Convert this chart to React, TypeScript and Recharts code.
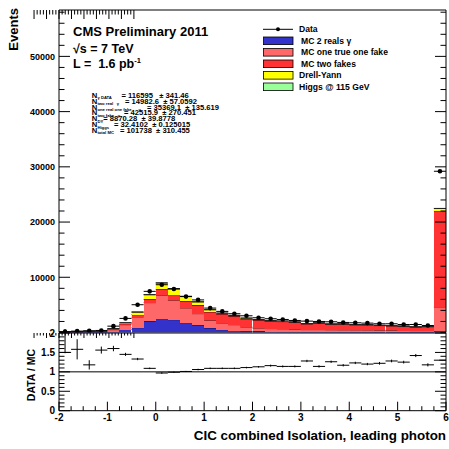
import React from 'react';
import { ComposedChart, Bar, Scatter, XAxis, YAxis, ErrorBar, ReferenceLine } from 'recharts';

// ---- data (bins of 0.25 from -2 to 6) ----
const binCenters = [-1.875, -1.625, -1.375, -1.125, -0.875, -0.625, -0.375, -0.125, 0.125, 0.375, 0.625, 0.875, 1.125, 1.375, 1.625, 1.875, 2.125, 2.375, 2.625, 2.875, 3.125, 3.375, 3.625, 3.875, 4.125, 4.375, 4.625, 4.875, 5.125, 5.375, 5.625, 5.875];
const binHalfWidth = 0.125;
const mcTwoReal = [20, 30, 50, 50, 150, 540, 850, 2000, 2490, 2300, 1760, 1300, 780, 490, 360, 240, 200, 180, 160, 150, 130, 130, 120, 110, 100, 100, 90, 90, 80, 80, 70, 300];
const mcOneTrueOneFake = [40, 70, 110, 100, 350, 860, 1940, 3400, 4240, 3520, 2660, 2100, 1400, 1210, 1040, 730, 580, 520, 480, 420, 380, 380, 350, 340, 340, 330, 300, 290, 270, 240, 250, 4300];
const mcTwoFakes = [30, 40, 60, 60, 150, 180, 420, 600, 1090, 1030, 1220, 1500, 1520, 1600, 1500, 1450, 1420, 1330, 1330, 1250, 1020, 1170, 1010, 1050, 940, 940, 860, 810, 770, 660, 720, 17400];
const drellYan = [10, 20, 30, 30, 70, 180, 490, 850, 1150, 1090, 900, 650, 430, 200, 190, 180, 150, 120, 100, 90, 80, 70, 60, 60, 50, 50, 50, 40, 40, 40, 40, 460];
const higgs115 = [0, 0, 0, 0, 0, 1, 1, 2, 3, 3, 2, 2, 1, 1, 1, 1, 1, 1, 1, 1, 1, 1, 1, 1, 1, 1, 1, 1, 1, 1, 1, 2];
const dataEvents = [150, 250, 300, 370, 1150, 2550, 5030, 7450, 8650, 7880, 6500, 5900, 4420, 3820, 3400, 3030, 2670, 2490, 2360, 2180, 2060, 2000, 1940, 1820, 1760, 1700, 1580, 1580, 1450, 1450, 1270, 29200];
const ratioDataMC = [1.50, 1.58, 1.18, 1.56, 1.60, 1.45, 1.33, 1.09, 0.97, 0.99, 1.01, 1.06, 1.09, 1.09, 1.09, 1.11, 1.13, 1.16, 1.14, 1.14, 1.28, 1.14, 1.26, 1.17, 1.23, 1.20, 1.22, 1.28, 1.25, 1.42, 1.18, 1.30];
const ratioErrLow = [0.02, 0.26, 0.12, 0.09, 0.07, 0.04, 0.03, 0.02, 0.02, 0.015, 0.015, 0.02, 0.02, 0.02, 0.02, 0.02, 0.02, 0.025, 0.025, 0.025, 0.03, 0.03, 0.03, 0.03, 0.03, 0.03, 0.035, 0.035, 0.035, 0.04, 0.04, 0.015];
const ratioErrHigh = [0.6, 0.26, 0.12, 0.09, 0.07, 0.04, 0.03, 0.02, 0.02, 0.015, 0.015, 0.02, 0.02, 0.02, 0.02, 0.02, 0.02, 0.025, 0.025, 0.025, 0.03, 0.03, 0.03, 0.03, 0.03, 0.03, 0.035, 0.035, 0.035, 0.04, 0.04, 0.015];

// ---- ticks ----
const xMajorTicks = [-2, -1, 0, 1, 2, 3, 4, 5, 6];
const xAllTicks = [-2, -1.75, -1.5, -1.25, -1, -0.75, -0.5, -0.25, 0, 0.25, 0.5, 0.75, 1, 1.25, 1.5, 1.75, 2, 2.25, 2.5, 2.75, 3, 3.25, 3.5, 3.75, 4, 4.25, 4.5, 4.75, 5, 5.25, 5.5, 5.75, 6];
const yMajorTicks = [10000, 20000, 30000, 40000, 50000];
const yAllTicks = [0, 2000, 4000, 6000, 8000, 10000, 12000, 14000, 16000, 18000, 20000, 22000, 24000, 26000, 28000, 30000, 32000, 34000, 36000, 38000, 40000, 42000, 44000, 46000, 48000, 50000, 52000, 54000, 56000, 58000];
const rMajorTicks = [0, 0.5, 1, 1.5, 2];
const rAllTicks = [0, 0.1, 0.2, 0.3, 0.4, 0.5, 0.6, 0.7, 0.8, 0.9, 1, 1.1, 1.2, 1.3, 1.4, 1.5, 1.6, 1.7, 1.8, 1.9, 2];

const legendItems = [
  { label: 'MC 2 reals \u03b3', color: '#3333cc', dx: 2 },
  { label: 'MC one true one fake', color: '#ff6868', dx: 2 },
  { label: 'MC two fakes', color: '#ff3333', dx: 2 },
  { label: 'Drell-Yann', color: '#ffff00', dx: 0 },
  { label: 'Higgs @ 115 GeV', color: '#99ff99', dx: 0 },
];

const yieldLines = [
  { sub: '\u03b3 DATA', rest: '= 116595   \u00b1 341.46', eqX: 121.5 },
  { sub: 'two real   \u03b3', rest: '= 14982.6  \u00b1 57.0592', eqX: 125 },
  { sub: 'one real one fake      \u03b3', rest: '= 35369.1  \u00b1 135.619', eqX: 147 },
  { sub: 'two fake   \u03b3', rest: '= 42515.9  \u00b1 270.451', eqX: 124 },
  { sub: 'DY', rest: '= 8870.28  \u00b1 39.8778', eqX: 103.3 },
  { sub: 'Higgs', rest: '= 32.4102  \u00b1 0.125015', eqX: 114 },
  { sub: 'total MC', rest: '= 101738  \u00b1 310.455', eqX: 120 },
];

const rows = binCenters.map((x, i) => ({
  bin: String(x),
  x,
  twoReal: mcTwoReal[i],
  oneFake: mcOneTrueOneFake[i],
  twoFakes: mcTwoFakes[i],
  dy: drellYan[i],
  higgs: higgs115[i],
  data: dataEvents[i],
  hw: binHalfWidth,
  ratio: ratioDataMC[i],
  ratioErr: [ratioErrLow[i], ratioErrHigh[i]],
}));

const FONT = '"Liberation Sans", Arial, Helvetica, sans-serif';

const makeShape = (lineColor: string) => (props: any) => {
  const { x, y, width, height, fill } = props;
  if (!height || height <= 0) return <g />;
  return (
    <g>
      <rect x={x} y={y} width={width} height={height} fill={fill} shapeRendering="crispEdges" />
      <line x1={x} x2={x + width} y1={y} y2={y} stroke={lineColor} strokeWidth={1} />
    </g>
  );
};

const dotShape = (p: any) => <circle cx={p.cx} cy={p.cy} r={2.3} fill="#000" />;
const noShape = () => <g />;

// Tick renderers (ticks drawn inward, ROOT style)
const makeYTick = (side: 'left' | 'right', majors: number[], majorLen: number, minorLen: number, labelSize: number) => (props: any) => {
  const { x, y, payload } = props;
  const v = payload.value;
  const isMajor = majors.includes(v);
  const len = isMajor ? majorLen : minorLen;
  const dir = side === 'left' ? 1 : -1;
  return (
    <g>
      <line x1={x} x2={x + dir * len} y1={y} y2={y} stroke="#000" strokeWidth={1} />
      {labelSize > 0 && isMajor ? (
        <text x={x - 4} y={y + labelSize * 0.36} textAnchor="end" fontSize={labelSize} fontWeight="bold" fontFamily={FONT} fill="#000">{String(v)}</text>
      ) : null}
    </g>
  );
};

const makeXTick = (side: 'bottom' | 'top', majors: number[], majorLen: number, minorLen: number, labelSize: number) => (props: any) => {
  const { x, y, payload } = props;
  const v = payload.value;
  const isMajor = majors.includes(v);
  const len = isMajor ? majorLen : minorLen;
  const dir = side === 'bottom' ? -1 : 1;
  return (
    <g>
      <line x1={x} x2={x} y1={y} y2={y + dir * len} stroke="#000" strokeWidth={1} />
      {labelSize > 0 && isMajor ? (
        <text x={x} y={y + 10.5} textAnchor="middle" fontSize={labelSize} fontWeight="bold" fontFamily={FONT} fill="#000">{String(v)}</text>
      ) : null}
    </g>
  );
};

const axisLine = { stroke: '#000', strokeWidth: 1 };

export default function App() {
  return (
    <div style={{ position: 'absolute', left: 0, top: 0, width: 449, height: 449, background: '#fff', overflow: 'hidden' }}>
      {/* Top panel */}
      <div style={{ position: 'absolute', left: 0, top: 0 }}>
        <ComposedChart width={449} height={340} data={rows} margin={{ top: 9, right: 2, bottom: 6.5, left: 58 }} barCategoryGap={0} barGap={0}>
          <XAxis xAxisId="cat" dataKey="bin" type="category" hide />
          <XAxis xAxisId="num" dataKey="x" type="number" domain={[-2, 6]} ticks={xAllTicks} interval={0} tickSize={0} tickMargin={0} tickLine={false} height={1} axisLine={axisLine} allowDataOverflow
            tick={makeXTick('bottom', xMajorTicks, 9, 4.5, 0)} />
          <XAxis xAxisId="top" orientation="top" type="number" domain={[-2, 6]} ticks={xAllTicks} interval={0} tickSize={0} tickMargin={0} tickLine={false} height={1} axisLine={axisLine} allowDataOverflow
            tick={makeXTick('top', xMajorTicks, 9, 4.5, 0)} />
          <YAxis yAxisId="y" type="number" domain={[0, 58400]} ticks={yAllTicks} interval={0} tickSize={0} tickMargin={0} tickLine={false} width={1} axisLine={axisLine} allowDataOverflow
            tick={makeYTick('left', yMajorTicks, 11, 5.5, 9)} />
          <YAxis yAxisId="yRight" orientation="right" type="number" domain={[0, 58400]} ticks={yAllTicks} interval={0} tickSize={0} tickMargin={0} tickLine={false} width={1} axisLine={axisLine} allowDataOverflow
            tick={makeYTick('right', yMajorTicks, 11, 5.5, 0)} />
          <Bar xAxisId="cat" yAxisId="y" dataKey="twoReal" stackId="mc" fill="#3333cc" shape={makeShape('#1c1c70')} isAnimationActive={false} />
          <Bar xAxisId="cat" yAxisId="y" dataKey="oneFake" stackId="mc" fill="#ff6868" shape={makeShape('#9a2a2a')} isAnimationActive={false} />
          <Bar xAxisId="cat" yAxisId="y" dataKey="twoFakes" stackId="mc" fill="#ff3333" shape={makeShape('#701515')} isAnimationActive={false} />
          <Bar xAxisId="cat" yAxisId="y" dataKey="dy" stackId="mc" fill="#ffff00" shape={makeShape('#222')} isAnimationActive={false} />
          <Bar xAxisId="cat" yAxisId="y" dataKey="higgs" stackId="mc" fill="#99ff99" shape={makeShape('#222')} isAnimationActive={false} />
          <Scatter xAxisId="num" yAxisId="y" dataKey="data" shape={dotShape} isAnimationActive={false}>
            <ErrorBar dataKey="hw" direction="x" width={0} stroke="#000" strokeWidth={1} />
          </Scatter>
        </ComposedChart>
      </div>

      {/* Ratio panel */}
      <div style={{ position: 'absolute', left: 0, top: 320 }}>
        <ComposedChart width={449} height={129} data={rows} margin={{ top: 12, right: 2, bottom: 37.3, left: 58 }}>
          <XAxis xAxisId="num" dataKey="x" type="number" domain={[-2, 6]} ticks={xAllTicks} interval={0} tickSize={0} tickMargin={0} tickLine={false} height={1} axisLine={axisLine} allowDataOverflow
            tick={makeXTick('bottom', xMajorTicks, 9, 4.5, 10)} />
          <XAxis xAxisId="top" orientation="top" type="number" domain={[-2, 6]} ticks={xAllTicks} interval={0} tickSize={0} tickMargin={0} tickLine={false} height={1} axisLine={axisLine} allowDataOverflow
            tick={makeXTick('top', xMajorTicks, 5, 2.5, 0)} />
          <YAxis yAxisId="r" type="number" domain={[0, 2]} ticks={rAllTicks} interval={0} tickSize={0} tickMargin={0} tickLine={false} width={1} axisLine={axisLine} allowDataOverflow
            tick={makeYTick('left', rMajorTicks, 11, 5.5, 10)} />
          <YAxis yAxisId="rRight" orientation="right" type="number" domain={[0, 2]} ticks={rAllTicks} interval={0} tickSize={0} tickMargin={0} tickLine={false} width={1} axisLine={axisLine} allowDataOverflow
            tick={makeYTick('right', rMajorTicks, 11, 5.5, 0)} />
          <ReferenceLine xAxisId="num" yAxisId="r" y={1} stroke="#000" strokeWidth={1} />
          <Scatter xAxisId="num" yAxisId="r" dataKey="ratio" shape={noShape} isAnimationActive={false}>
            <ErrorBar dataKey="hw" direction="x" width={0} stroke="#000" strokeWidth={1} />
            <ErrorBar dataKey="ratioErr" direction="y" width={0} stroke="#000" strokeWidth={1} />
          </Scatter>
        </ComposedChart>
      </div>

      {/* Text overlay */}
      <svg width={449} height={449} style={{ position: 'absolute', left: 0, top: 0, pointerEvents: 'none' }} fontFamily={FONT} fontWeight="bold">
        <text x={17.5} y={8} transform="rotate(-90 17.5 8)" textAnchor="end" fontSize={13}>Events</text>
        <text x={34.5} y={375} transform="rotate(-90 34.5 375)" textAnchor="middle" fontSize={10.5}>DATA / MC</text>
        <text x={446} y={440} textAnchor="end" fontSize={13.4}>CIC combined Isolation, leading photon</text>

        <text x={73} y={36} fontSize={13}>CMS Preliminary 2011</text>
        <text x={73} y={53} fontSize={12.5}>{'\u221As = 7 TeV'}</text>
        <text x={73} y={68} fontSize={12.5} xmlSpace="preserve">
          {'L =  1.6 pb'}<tspan fontSize={7.5} dy={-5}>-1</tspan>
        </text>

        {yieldLines.map((l, i) => {
          const base = 97.8 + i * 5.85;
          return (
            <g key={i}>
              <text x={91.7} y={base} fontSize={7.6}>N</text>
              <text x={97.4} y={base + 1.5} fontSize={4.2} xmlSpace="preserve">{l.sub}</text>
              <text x={l.eqX} y={base} fontSize={7.6} xmlSpace="preserve">{l.rest}</text>
            </g>
          );
        })}

        {/* legend */}
        <line x1={263} x2={293} y1={29.3} y2={29.3} stroke="#000" strokeWidth={1} />
        <circle cx={278} cy={29.3} r={2} fill="#000" />
        <text x={299} y={32.3} fontSize={8.6}>Data</text>
        {legendItems.map((it, i) => {
          const cy = 40.8 + i * 11.5;
          return (
            <g key={it.label}>
              <rect x={263.5} y={cy - 3.8} width={29.5} height={7.6} fill={it.color} stroke="#000" strokeWidth={0.8} />
              <text x={299 + it.dx} y={cy + 3.1} fontSize={8.6}>{it.label}</text>
            </g>
          );
        })}
      </svg>
    </div>
  );
}
